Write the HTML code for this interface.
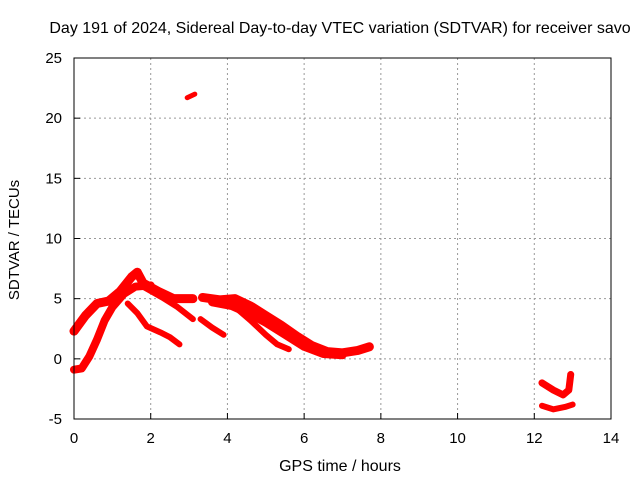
<!DOCTYPE html>
<html><head><meta charset="utf-8"><style>
body{margin:0;background:#fff;}
svg text{font-family:"Liberation Sans",sans-serif;font-size:15px;fill:#000;}
</style></head><body>
<svg id="chart" width="640" height="480" viewBox="0 0 640 480" xmlns="http://www.w3.org/2000/svg">
<rect width="640" height="480" fill="#fff"/>
<text x="340" y="33" text-anchor="middle" style="font-size:16px">Day 191 of 2024, Sidereal Day-to-day VTEC variation (SDTVAR) for receiver savo</text>
<g id="grid"></g><g id="axes"></g><g id="series"></g>
<rect x="74" y="58" width="537" height="361" fill="none" stroke="#000" stroke-width="1"/>
<text x="340" y="471" text-anchor="middle" style="font-size:16px">GPS time / hours</text>
<text transform="translate(19,240) rotate(-90)" text-anchor="middle">SDTVAR / TECUs</text>
</svg>
<script>
const xTicks=[0,2,4,6,8,10,12,14];
const yTicks=[-5,0,5,10,15,20,25];
const trackA=[[0,2.3],[0.3,3.6],[0.6,4.6],[0.9,4.8],[1.2,5.6],[1.5,6.8],[1.65,7.2],[1.8,6.3],[2.2,5.6],[2.6,5.0],[3.1,5.0]];
const trackB=[[0,-0.9],[0.2,-0.8],[0.4,0.2],[0.6,1.6],[0.8,3.2],[1.0,4.3],[1.3,5.4],[1.6,6.0],[2.0,6.1]];
const trackA2=[[1.8,6.0],[2.3,5.1],[2.7,4.3],[3.1,3.3]];
const trackC=[[1.4,4.6],[1.65,3.8],[1.9,2.7],[2.25,2.2],[2.5,1.8],[2.75,1.2]];
const trackD=[[3.3,3.3],[3.6,2.6],[3.9,2.0]];
const trackE=[[3.35,5.1],[3.8,4.9],[4.2,5.0],[4.6,4.4],[5.0,3.6],[5.4,2.8],[5.8,1.9],[6.2,1.1],[6.6,0.6],[7.0,0.5],[7.4,0.7],[7.7,1.0]];
const trackE2=[[3.6,4.7],[4.1,4.4],[4.6,3.7],[5.0,3.0],[5.5,2.0],[6.0,1.0],[6.5,0.4],[7.0,0.3]];
const trackF=[[4.2,4.3],[4.6,3.2],[5.0,2.0],[5.3,1.2],[5.6,0.8]];
const trackG=[[12.2,-2.0],[12.5,-2.6],[12.75,-3.0],[12.9,-2.6],[12.95,-1.3]];
const trackH=[[12.2,-3.9],[12.5,-4.2],[12.8,-4.0],[13.0,-3.8]];
const trackI=[[2.95,21.7],[3.15,22.0]];
const tracks=[[trackA,9],[trackB,8],[trackA2,6],[trackC,6],[trackD,6],[trackE,9],[trackE2,8],[trackF,6],[trackG,7],[trackH,6],[trackI,5]];
const X=h=>74+h*(537/14), Y=v=>419-(v+5)*(361/30);
const NS="http://www.w3.org/2000/svg";
const grid=document.getElementById('grid'),axes=document.getElementById('axes'),ser=document.getElementById('series');
function mk(tag,attrs,parent){const e=document.createElementNS(NS,tag);for(const k in attrs)e.setAttribute(k,attrs[k]);parent.appendChild(e);return e;}
xTicks.forEach(t=>{
 if(t>0&&t<14){const g=mk('line',{x1:X(t),x2:X(t),y1:58,y2:419,stroke:'#999','stroke-dasharray':'2,3'},grid);
 
 }
 const l=mk('text',{x:X(t),y:443,'text-anchor':'middle'},axes);l.textContent=t;
 
 
 mk('line',{x1:X(t),x2:X(t),y1:419,y2:413,stroke:'#000'},axes);
});
yTicks.forEach(t=>{
 if(t>-5&&t<25){const g=mk('line',{x1:74,x2:611,y1:Y(t),y2:Y(t),stroke:'#999','stroke-dasharray':'2,3'},grid);
 
 }
 const l=mk('text',{x:62,y:Y(t)+5,'text-anchor':'end'},axes);l.textContent=t;
 
 
 mk('line',{x1:74,x2:80,y1:Y(t),y2:Y(t),stroke:'#000'},axes);
});
tracks.forEach(([pts,w])=>{
 const p=mk('polyline',{points:pts.map(q=>X(q[0])+','+Y(q[1])).join(' '),fill:'none',stroke:'#f00','stroke-width':w,'stroke-linejoin':'round','stroke-linecap':'round'},ser);
 
 
});
</script>
</body></html>
